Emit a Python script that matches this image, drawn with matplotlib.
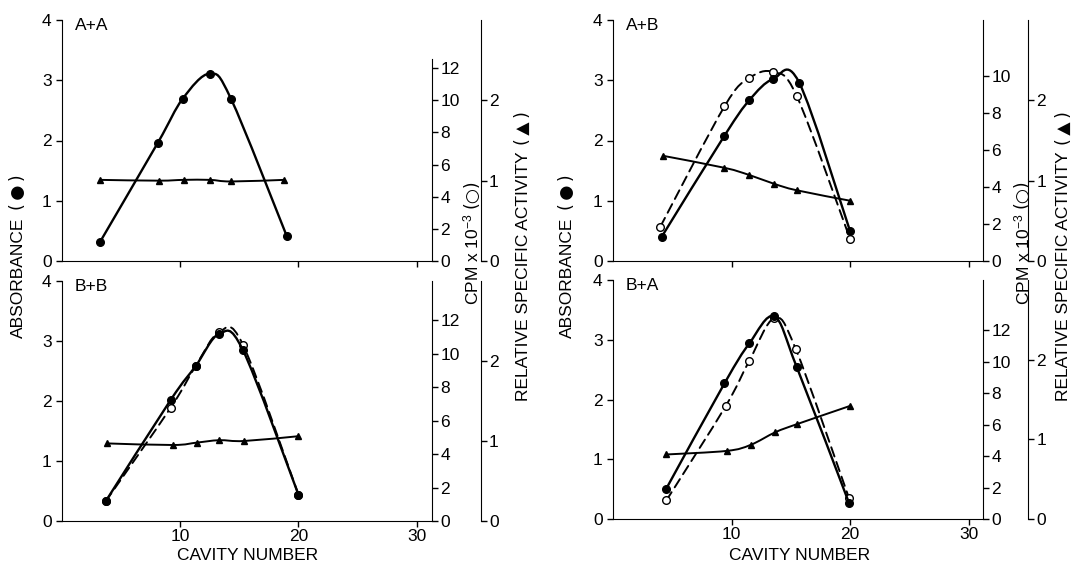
import numpy as np
import matplotlib
matplotlib.use("Agg")
import matplotlib.pyplot as plt
from matplotlib.path import Path
from matplotlib.patches import PathPatch

plt.rcParams['font.family'] = ['Liberation Sans', 'DejaVu Sans']
plt.rcParams['mathtext.fontset'] = 'custom'
plt.rcParams['mathtext.rm'] = 'Liberation Sans'
plt.rcParams['mathtext.it'] = 'Liberation Sans'

# ---- data ----
# A+A
aa_x = [3.2, 8.1, 10.2, 12.5, 14.3, 19.0]
aa_abs = [0.31, 1.96, 2.69, 3.11, 2.69, 0.42]
aa_tri_x = [3.2, 8.2, 10.3, 12.5, 14.3, 18.8]
aa_rsa = [1.01, 1.00, 1.01, 1.01, 0.99, 1.01]

# A+B
ab_x = [4.1, 9.4, 11.5, 13.5, 15.7, 20.0]
ab_abs = [0.40, 2.08, 2.67, 3.02, 2.96, 0.49]
ab_open_x = [4.0, 9.4, 11.5, 13.5, 15.5, 20.0]
ab_cpm = [1.86, 8.34, 9.87, 10.19, 8.89, 1.17]
ab_tri_x = [4.2, 9.4, 11.5, 13.6, 15.5, 20.0]
ab_rsa = [1.31, 1.16, 1.07, 0.96, 0.88, 0.75]

# B+B
bb_x = [3.7, 9.2, 11.3, 13.3, 15.3, 20.0]
bb_abs = [0.33, 2.02, 2.58, 3.12, 2.85, 0.44]
bb_open_x = [3.7, 9.2, 11.3, 13.3, 15.3, 20.0]
bb_cpm = [1.18, 6.78, 9.26, 11.3, 10.55, 1.58]
bb_tri_x = [3.8, 9.4, 11.4, 13.3, 15.4, 20.0]
bb_rsa = [0.97, 0.95, 0.98, 1.01, 1.00, 1.06]

# B+A
ba_x = [4.5, 9.4, 11.5, 13.6, 15.5, 19.9]
ba_abs = [0.51, 2.27, 2.94, 3.39, 2.54, 0.27]
ba_open_x = [4.5, 9.5, 11.5, 13.6, 15.4, 19.9]
ba_cpm = [1.18, 7.18, 10.07, 12.77, 10.83, 1.33]
ba_tri_x = [4.5, 9.6, 11.6, 13.7, 15.5, 20.0]
ba_rsa = [0.81, 0.855, 0.93, 1.09, 1.19, 1.42]

FS = 12.5


def smooth_path(x, y):
    # Catmull-Rom curve through the points, drawn as cubic Bezier segments
    pts = np.column_stack([x, y]).astype(float)
    n = len(pts)
    verts = [pts[0]]
    codes = [Path.MOVETO]
    for i in range(n - 1):
        p0 = pts[i - 1] if i > 0 else pts[i]
        p1 = pts[i]
        p2 = pts[i + 1]
        p3 = pts[i + 2] if i + 2 < n else pts[i + 1]
        verts += [p1 + (p2 - p0) / 6, p2 - (p3 - p1) / 6, p2]
        codes += [Path.CURVE4] * 3
    return Path(verts, codes)


def draw_curve(ax, x, y, lw, ls='-'):
    ax.add_patch(PathPatch(smooth_path(x, y), fill=False, lw=lw,
                           ls=ls, edgecolor='black', capstyle='round'))


def panel(rect, xmax, title, cpm_max, cpm_top, cpm_ticks, rsa_off, show_x,
          x, absorb, tri_x, rsa, open_x=None, cpm=None):
    ax = fig.add_axes(rect)
    ax.set_xlim(0, xmax)
    ax.set_ylim(0, 4)
    for s in ['top', 'right']:
        ax.spines[s].set_visible(False)
    ax.set_yticks([0, 1, 2, 3, 4])
    ax.set_xticks([10, 20, 30])
    ax.tick_params(direction='out', length=4, width=1, labelsize=FS)
    ax.tick_params(axis='x', pad=2)
    if not show_x:
        ax.tick_params(labelbottom=False)
    ax.text(0.035, 1.01, title, transform=ax.transAxes, ha='left', va='top',
            fontsize=FS)

    ax2 = ax.twinx()
    ax2.set_ylim(0, cpm_max)
    for s in ['top', 'left', 'bottom']:
        ax2.spines[s].set_visible(False)
    ax2.spines['right'].set_bounds(0, cpm_top)
    ax2.set_yticks(cpm_ticks)
    ax2.tick_params(direction='out', length=4, width=1, labelsize=FS, pad=2)

    ax3 = ax.twinx()
    ax3.set_ylim(0, 3)
    for s in ['top', 'left', 'bottom']:
        ax3.spines[s].set_visible(False)
    ax3.spines['right'].set_position(('outward', rsa_off))
    ax3.set_yticks([0, 1, 2])
    ax3.tick_params(direction='out', length=4, width=1, labelsize=FS, pad=2)

    ax2.set_zorder(1)
    ax.set_zorder(2)
    ax3.set_zorder(3)
    ax.patch.set_visible(False)

    if open_x is not None:
        draw_curve(ax2, open_x, cpm, 1.4, ls=(0, (5, 3)))
        ax2.plot(open_x, cpm, 'o', ms=5.5, mfc='white', mec='black', mew=1)
    draw_curve(ax, x, absorb, 1.7)
    ax.plot(x, absorb, 'o', ms=5.5, color='black')
    draw_curve(ax3, tri_x, rsa, 1.4)
    ax3.plot(tri_x, rsa, '^', ms=4.5, color='black')
    return ax


fig = plt.figure(figsize=(10.78, 5.70), dpi=100)
W, H = 1078.0, 570.0
renderer = fig.canvas.get_renderer()


def rect(x0, x1, ytop, ybot):
    return [x0 / W, 1 - ybot / H, (x1 - x0) / W, (ybot - ytop) / H]


def vlabel(xc, yc, main, sym, gap=7):
    # rotated title: text in Liberation Sans, symbol in DejaVu (larger glyph)
    t1 = fig.text(xc / W, 0, main, rotation=90, ha='center', va='bottom',
                  fontsize=FS, family='Liberation Sans')
    t2 = fig.text(xc / W, 0, sym, rotation=90, ha='center', va='bottom',
                  fontsize=FS, family='DejaVu Sans')
    h1 = t1.get_window_extent(renderer).height
    h2 = t2.get_window_extent(renderer).height
    y0 = (H - yc) - (h1 + gap + h2) / 2
    t1.set_y(y0 / H)
    t2.set_y((y0 + h1 + gap) / H)


panel(rect(62, 432, 20, 261), 31.3, "A+A", 15.0, 12.6,
      [0, 2, 4, 6, 8, 10, 12], 35, False, aa_x, aa_abs, aa_tri_x, aa_rsa)
panel(rect(613, 983, 20, 261), 31.2, "A+B", 13.0, 13.0,
      [0, 2, 4, 6, 8, 10], 32.5, False, ab_x, ab_abs, ab_tri_x, ab_rsa,
      ab_open_x, ab_cpm)
panel(rect(62, 432, 281, 521), 31.3, "B+B", 14.35, 14.35,
      [0, 2, 4, 6, 8, 10, 12], 35, True, bb_x, bb_abs, bb_tri_x, bb_rsa,
      bb_open_x, bb_cpm)
panel(rect(613, 983, 280, 519), 31.2, "B+A", 15.2, 15.2,
      [0, 2, 4, 6, 8, 10, 12], 32.5, True, ba_x, ba_abs, ba_tri_x, ba_rsa,
      ba_open_x, ba_cpm)

# shared axis titles
for xc in (18, 567):
    vlabel(xc, 256, "ABSORBANCE", "(\u2009\u25cf\u2009)")
for xc in (471, 1022):
    vlabel(xc, 242, "CPM x 10$^{-3}$", "(\u25cb)", gap=5)
for xc in (523, 1064):
    vlabel(xc, 256, "RELATIVE SPECIFIC ACTIVITY", "(\u2009\u25b2\u2009)")
for xc in (248, 800):
    fig.text(xc / W, 1 - 556 / H, "CAVITY NUMBER", ha='center', va='center',
             fontsize=FS)

fig.savefig("out.png", dpi=100, facecolor='white')
